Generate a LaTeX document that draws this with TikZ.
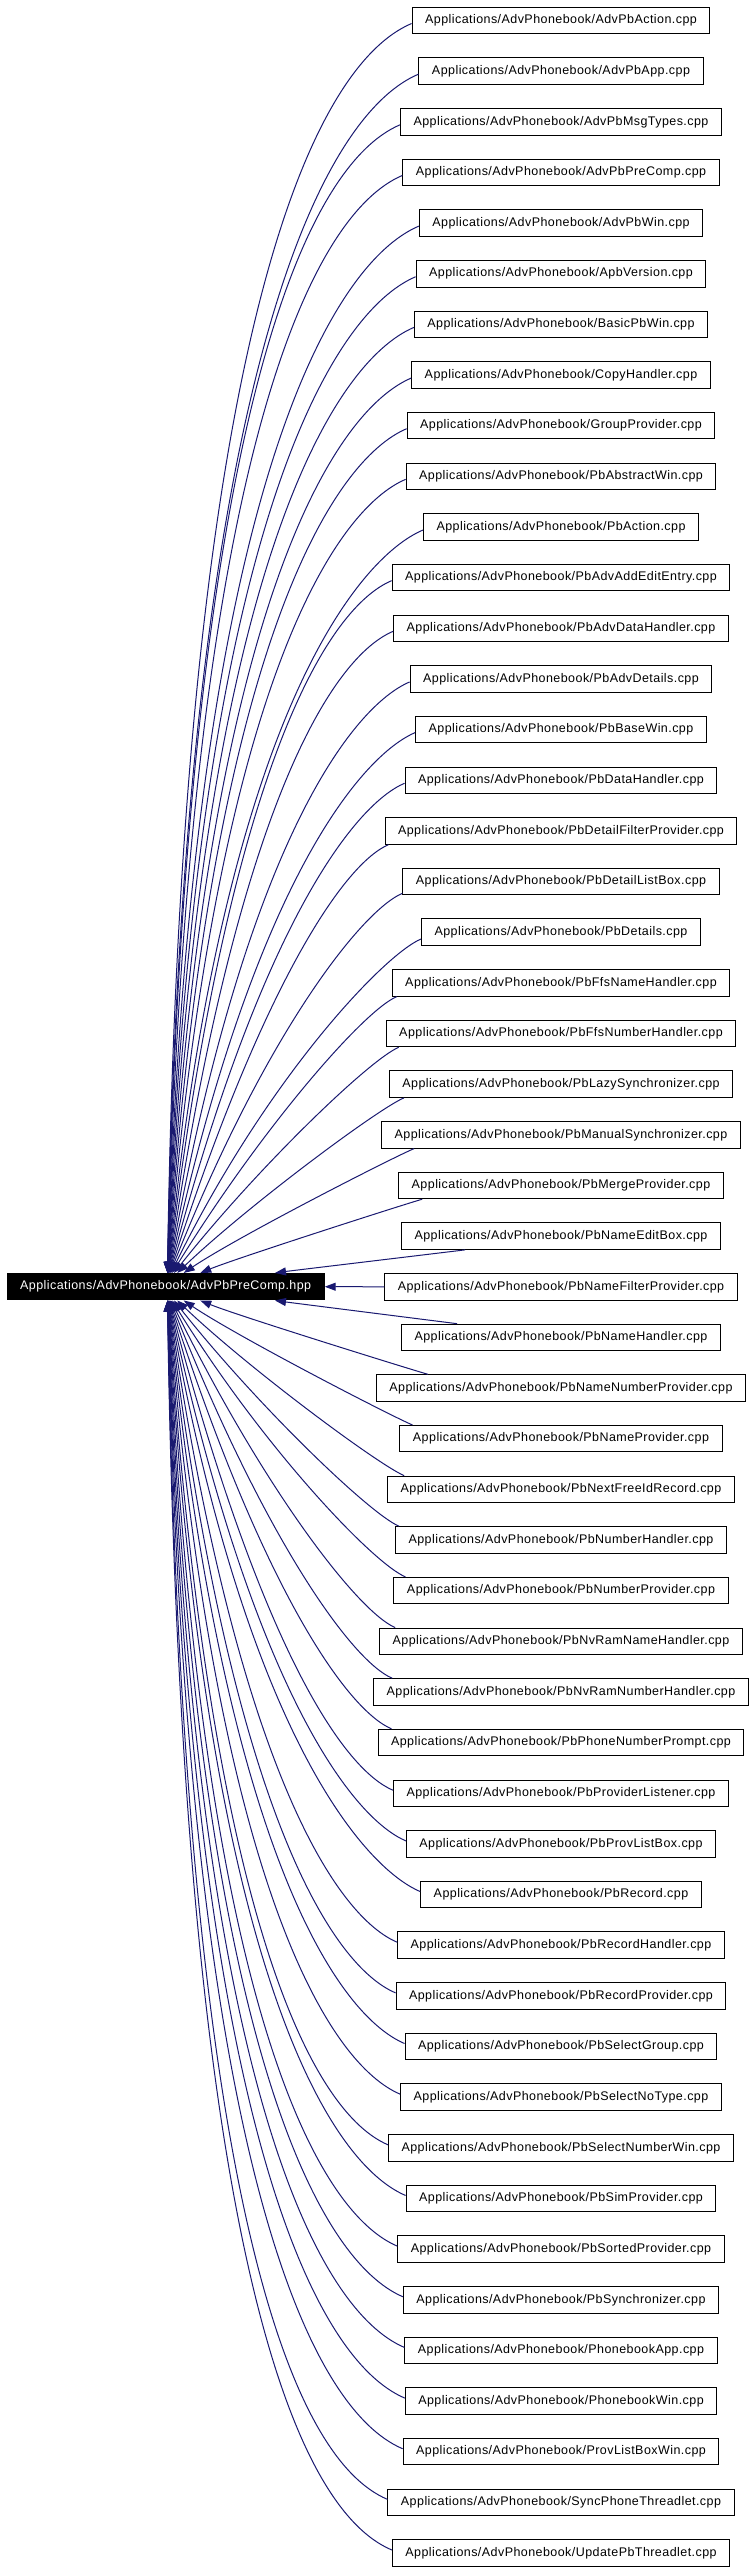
\documentclass[tikz,border=0pt]{standalone}
\usepackage{fontspec}
\setmainfont{Liberation Sans}[LetterSpace=3.5]
\usetikzlibrary{arrows.meta}
\definecolor{edgeblue}{RGB}{25,25,112}
\tikzset{
  file/.style={draw=black, line width=1pt, fill=white, minimum height=26.5pt,
    inner xsep=13pt, inner ysep=0pt, font=\fontsize{12.5}{14}\selectfont, text=black},
  mainfile/.style={file, fill=black, text=white},
  dep/.style={draw=edgeblue, line width=1pt, {Triangle[length=11pt,width=8pt]}-},
}
\def\sAbove{{0,64,24,33,15,13,5,0,0,4}}
\def\uAbove{{0,0,0,0,0,0,0,7,2,0}}
\def\sBelow{{0,56,52,13,17,4,12,16,19,14}}
\begin{document}
\begin{tikzpicture}[x=1pt,y=1pt]
\useasboundingbox (0,0) rectangle (755,-2573);
\node[mainfile] (main) at (165.7,-1286.7) {Applications/AdvPhonebook/AdvPbPreComp.hpp};
\foreach \n [count=\i] in {AdvPbAction, AdvPbApp, AdvPbMsgTypes, AdvPbPreComp, AdvPbWin,
  ApbVersion, BasicPbWin, CopyHandler, GroupProvider, PbAbstractWin,
  PbAction, PbAdvAddEditEntry, PbAdvDataHandler, PbAdvDetails, PbBaseWin,
  PbDataHandler, PbDetailFilterProvider, PbDetailListBox, PbDetails, PbFfsNameHandler,
  PbFfsNumberHandler, PbLazySynchronizer, PbManualSynchronizer, PbMergeProvider, PbNameEditBox,
  PbNameFilterProvider, PbNameHandler, PbNameNumberProvider, PbNameProvider, PbNextFreeIdRecord,
  PbNumberHandler, PbNumberProvider, PbNvRamNameHandler, PbNvRamNumberHandler, PbPhoneNumberPrompt,
  PbProviderListener, PbProvListBox, PbRecord, PbRecordHandler, PbRecordProvider,
  PbSelectGroup, PbSelectNoType, PbSelectNumberWin, PbSimProvider, PbSortedProvider,
  PbSynchronizer, PhonebookApp, PhonebookWin, ProvListBoxWin, SyncPhoneThreadlet,
  UpdatePbThreadlet}{
  \node[file] (f\i) at (561,{-(20.5+(\i-1)*50.65)}) {Applications/AdvPhonebook/\n.cpp};
}
\foreach \i in {1,...,51}{
  \pgfmathtruncatemacro\kk{\i-26}
  \pgfmathtruncatemacro\aa{abs(\kk)}
  \ifnum\aa=0\relax
    \draw[dep] (main.east) -- (f\i.west);
  \else
    \pgfmathsetmacro\tipx{1.3+108/(\aa^1.7)}
    \pgfmathsetmacro\ps{90-82*exp(-0.19*(\aa-1))}
    \pgfmathsetmacro\al{\aa==1 ? 7 : (\aa==2 ? 16 : 23)}
    \pgfmathsetmacro\fac{0.52+0.23*min(1,max(0,(\aa-3)/7))}
    \pgfmathsetmacro\cy{20.5+(\i-1)*50.65}
    \ifnum\kk<0\relax
      \pgfmathsetmacro\inang{180+\al}
      \ifnum\aa<10\relax
        \pgfmathsetmacro\sx{\sAbove[\aa]}
        \pgfmathsetmacro\uy{\uAbove[\aa]}
        \pgfmathsetmacro\dyy{1274-(\cy+13.25-\uy)}
        \pgfmathsetmacro\Lone{\fac*\dyy}
        \pgfmathsetmacro\Ltwo{15+0.075*\dyy}
        \draw[dep] ([xshift=\tipx pt]main.north) .. controls +(\ps:\Lone) and +(\inang:\Ltwo) .. ([xshift=\sx pt, yshift=\uy pt]f\i.south west);
      \else
        \pgfmathsetmacro\dyy{1274-(\cy+3)}
        \pgfmathsetmacro\Lone{\fac*\dyy}
        \pgfmathsetmacro\Ltwo{15+0.075*\dyy}
        \draw[dep] ([xshift=\tipx pt]main.north) .. controls +(\ps:\Lone) and +(\inang:\Ltwo) .. ([yshift=-3pt]f\i.west);
      \fi
    \else
      \pgfmathsetmacro\inang{180-\al}
      \pgfmathsetmacro\outang{-\ps}
      \ifnum\aa<10\relax
        \pgfmathsetmacro\sx{\sBelow[\aa]}
        \pgfmathsetmacro\dyy{(\cy-13.25)-1299.3}
        \pgfmathsetmacro\Lone{\fac*\dyy}
        \pgfmathsetmacro\Ltwo{15+0.075*\dyy}
        \draw[dep] ([xshift=\tipx pt]main.south) .. controls +(\outang:\Lone) and +(\inang:\Ltwo) .. ([xshift=\sx pt]f\i.north west);
      \else
        \pgfmathsetmacro\dyy{(\cy-3)-1299.3}
        \pgfmathsetmacro\Lone{\fac*\dyy}
        \pgfmathsetmacro\Ltwo{15+0.075*\dyy}
        \draw[dep] ([xshift=\tipx pt]main.south) .. controls +(\outang:\Lone) and +(\inang:\Ltwo) .. ([yshift=3pt]f\i.west);
      \fi
    \fi
  \fi
}
\end{tikzpicture}
\end{document}
